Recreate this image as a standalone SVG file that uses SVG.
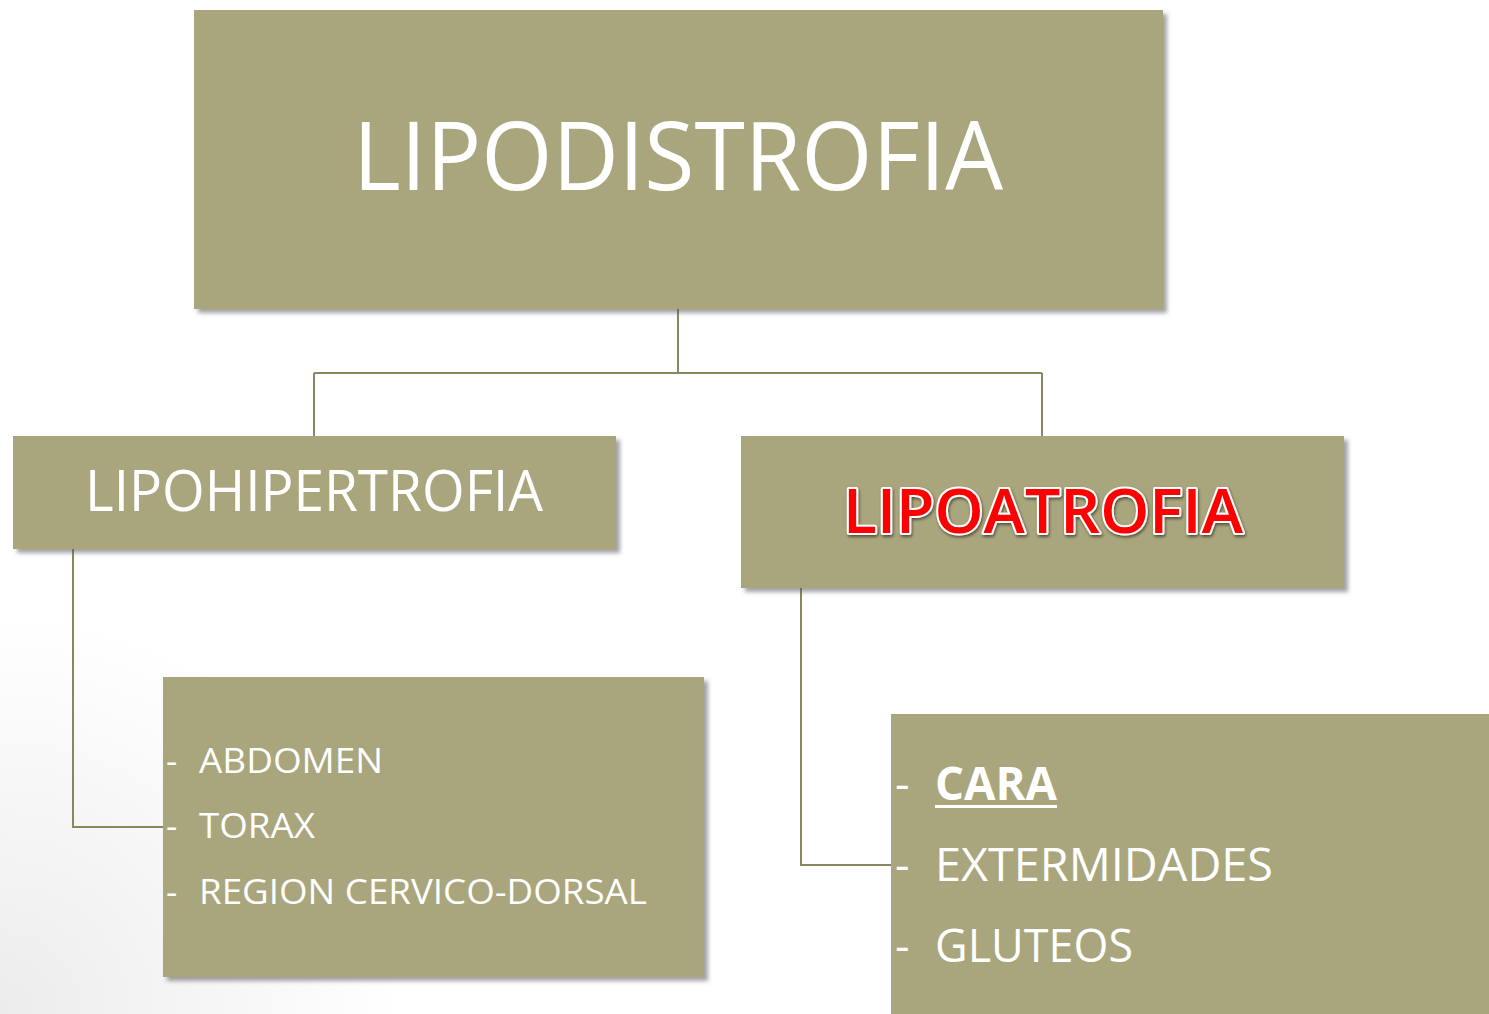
<svg xmlns="http://www.w3.org/2000/svg" width="1489" height="1014" viewBox="0 0 1489 1014">
<defs>
<radialGradient id="bg" cx="0" cy="1014" r="400" gradientUnits="userSpaceOnUse">
<stop offset="0" stop-color="#ececec"/>
<stop offset="1" stop-color="#ffffff"/>
</radialGradient>
<filter id="sh" x="-5%" y="-5%" width="112%" height="115%">
<feDropShadow dx="4" dy="4" stdDeviation="2" flood-color="#555" flood-opacity="0.55"/>
</filter>
<filter id="tsh" x="-5%" y="-20%" width="110%" height="140%">
<feDropShadow dx="1" dy="2" stdDeviation="1.5" flood-color="#000" flood-opacity="0.5"/>
</filter>
</defs>
<style>
.box{fill:#A9A67D;filter:url(#sh)}
.t{font-family:"Open Sans","Liberation Sans",sans-serif;fill:#ffffff}
.con{fill:none;stroke:#8A8660;stroke-width:2}
</style>
<rect width="1489" height="1014" fill="url(#bg)"/>
<g id="connectors">
<path class="con" d="M678 309 V373 M314 373 H1042 M314 373 V436 M1042 373 V436"/>
<path class="con" d="M73 549 V827 H163"/>
<path class="con" d="M801 588 V865 H891"/>
</g>
<g id="lipodistrofia">
<rect class="box" x="194" y="10" width="969" height="299"/>
<text class="t" x="353" y="190" font-size="96" textLength="650" lengthAdjust="spacingAndGlyphs">LIPODISTROFIA</text>
</g>
<g id="lipohipertrofia">
<rect class="box" x="13" y="436" width="603" height="113"/>
<text class="t" x="85" y="511" font-size="56" textLength="458" lengthAdjust="spacingAndGlyphs">LIPOHIPERTROFIA</text>
</g>
<g id="lipoatrofia">
<rect class="box" x="741" y="436" width="603" height="152"/>
<text x="843" y="533" font-family="'Open Sans','Liberation Sans',sans-serif" font-weight="600" font-size="62" fill="#FF0000" stroke="#ffffff" stroke-width="4" paint-order="stroke" stroke-linejoin="round" textLength="400" lengthAdjust="spacingAndGlyphs" filter="url(#tsh)">LIPOATROFIA</text>
</g>
<g id="lipohipertrofia-list">
<rect class="box" x="163" y="677" width="541" height="300"/>
<text class="t" x="166" y="773" font-size="35">-</text>
<text class="t" x="199" y="773" font-size="35" textLength="184" lengthAdjust="spacingAndGlyphs">ABDOMEN</text>
<text class="t" x="166" y="838" font-size="35">-</text>
<text class="t" x="199" y="838" font-size="35" textLength="116" lengthAdjust="spacingAndGlyphs">TORAX</text>
<text class="t" x="166" y="904" font-size="35">-</text>
<text class="t" x="199" y="904" font-size="35" textLength="448" lengthAdjust="spacingAndGlyphs">REGION CERVICO-DORSAL</text>
</g>
<g id="lipoatrofia-list">
<rect class="box" x="891" y="714" width="610" height="320"/>
<text class="t" x="895" y="800" font-size="45">-</text>
<text class="t" x="935" y="800" font-size="46" font-weight="bold" textLength="122" lengthAdjust="spacingAndGlyphs">CARA</text>
<rect x="935" y="805" width="122" height="3" fill="#ffffff"/>
<text class="t" x="895" y="881" font-size="45">-</text>
<text class="t" x="935" y="881" font-size="46" textLength="338" lengthAdjust="spacingAndGlyphs">EXTERMIDADES</text>
<text class="t" x="895" y="962" font-size="45">-</text>
<text class="t" x="935" y="962" font-size="46" textLength="198" lengthAdjust="spacingAndGlyphs">GLUTEOS</text>
</g>
</svg>
